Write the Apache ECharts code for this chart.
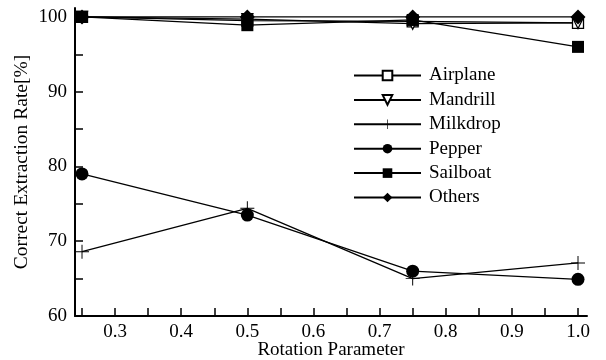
<!DOCTYPE html>
<html><head><meta charset="utf-8">
<script src="https://cdn.jsdelivr.net/npm/echarts@6/dist/echarts.min.js"></script>
<style>html,body{margin:0;padding:0;background:#fff}#c{width:606px;height:360px}</style>
</head><body><div id="c"></div>
<script>
var xValues = [0.25, 0.5, 0.75, 1.0];
var airplane = [100, 99.5, 99.4, 99.2];
var mandrill = [100, 99.7, 99.1, 99.2];
var milkdrop = [68.6, 74.4, 65.0, 67.1];
var pepper = [79.0, 73.5, 66.0, 64.9];
var sailboat = [100, 98.9, 99.6, 96.0];
var others = [100, 100, 100, 100];
var xTicks = [0.25,0.3,0.35,0.4,0.45,0.5,0.55,0.6,0.65,0.7,0.75,0.8,0.85,0.9,0.95,1.0];
var xLabels = [0.3,0.4,0.5,0.6,0.7,0.8,0.9,1.0];
var yTicks = [60,65,70,75,80,85,90,95,100];
var yLabels = [60,70,80,90,100];

var plusPath = 'path://M-0.07,-1H0.07V-0.07H1V0.07H0.07V1H-0.07V0.07H-1V-0.07H-0.07Z';
function pts(arr){ return xValues.map(function(x,i){return [x,arr[i]];}); }
function mk(name, data, symbol, size, hollow, rot){
  return {
    name:name, type:'line', data:pts(data), symbol:symbol, symbolSize:size,
    symbolRotate: rot||0, showSymbol:true,
    lineStyle:{color:'#000', width:1.3},
    itemStyle: hollow ? {color:'#fff', borderColor:'#000', borderWidth:1.3} : {color:'#000', borderColor:'#000', borderWidth:0},
    emphasis:{disabled:true}, animation:false, clip:false
  };
}
var font = 'Liberation Serif';
var chart = echarts.init(document.getElementById('c'));
chart.setOption({
  backgroundColor:'#fff',
  animation:false,
  grid:{left:75, right:19, top:8, bottom:44, outerBoundsMode:'none', containLabel:false},
  legend:{
    orient:'vertical', left:348, top:61, itemWidth:67, itemHeight:12, itemGap:5.4,
    textStyle:{fontFamily:font, fontSize:19, color:'#000', padding:[0,0,0,3]},
    data:['Airplane','Mandrill','Milkdrop','Pepper','Sailboat','Others']
  },
  xAxis:{
    type:'value', min:0.2394, max:1.0136,
    name:'Rotation Parameter', nameLocation:'middle', nameGap:25, nameMoveOverlap:false,
    nameTextStyle:{fontFamily:font, fontSize:19, color:'#000'},
    axisLine:{lineStyle:{color:'#000', width:2}},
    axisTick:{inside:true, length:8, customValues:xTicks, lineStyle:{color:'#000', width:1.5}},
    axisLabel:{customValues:xLabels, fontFamily:font, fontSize:19, color:'#000', margin:7,
      formatter:function(v){return (+v).toFixed(1);}},
    splitLine:{show:false}
  },
  yAxis:{
    type:'value', min:60, max:101.2,
    name:'Correct Extraction Rate[%]', nameLocation:'middle', nameGap:43, nameMoveOverlap:false,
    nameTextStyle:{fontFamily:font, fontSize:19.5, color:'#000'},
    axisLine:{lineStyle:{color:'#000', width:2}},
    axisTick:{inside:true, length:8, customValues:yTicks, lineStyle:{color:'#000', width:1.5}},
    axisLabel:{customValues:yLabels, fontFamily:font, fontSize:19, color:'#000', margin:8},
    splitLine:{show:false}
  },
  series:[
    mk('Airplane', airplane, 'rect', 11, true),
    mk('Mandrill', mandrill, 'triangle', 11, true, 180),
    mk('Milkdrop', milkdrop, plusPath, 14, false),
    mk('Pepper', pepper, 'circle', 13, false),
    mk('Sailboat', sailboat, 'rect', 12, false),
    mk('Others', others, 'diamond', 15, false)
  ]
});
</script></body></html>
